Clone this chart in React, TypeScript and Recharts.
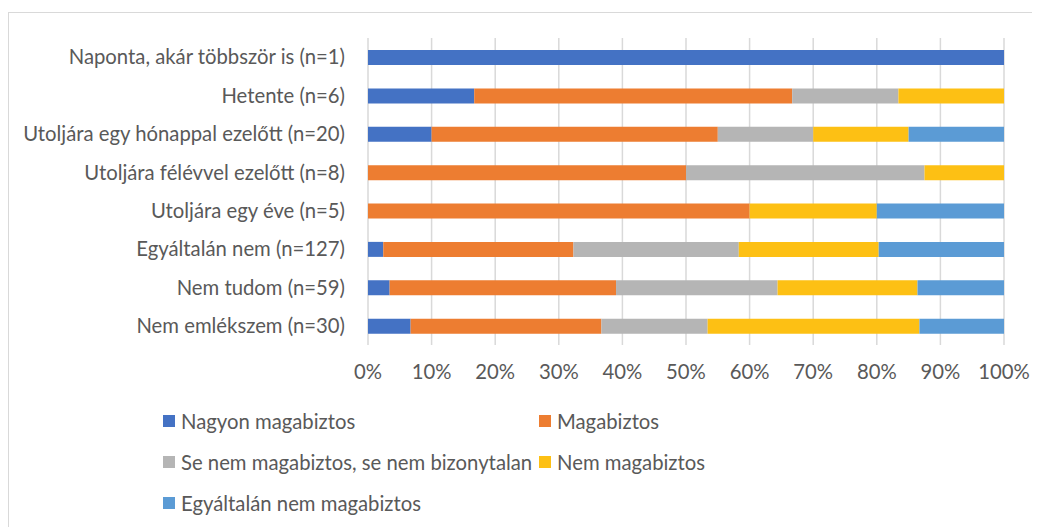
import React from "react";
import { BarChart, Bar, XAxis, YAxis, CartesianGrid, Legend } from "recharts";

const categories = [
  "Naponta, akár többször is (n=1)",
  "Hetente (n=6)",
  "Utoljára egy hónappal ezelőtt (n=20)",
  "Utoljára félévvel ezelőtt (n=8)",
  "Utoljára egy éve (n=5)",
  "Egyáltalán nem (n=127)",
  "Nem tudom (n=59)",
  "Nem emlékszem (n=30)",
];

const seriesNames = [
  "Nagyon magabiztos",
  "Magabiztos",
  "Se nem magabiztos, se nem bizonytalan",
  "Nem magabiztos",
  "Egyáltalán nem magabiztos",
];

const nagyonMagabiztos = [100, 16.7, 10, 0, 0, 2.4, 3.4, 6.7];
const magabiztos = [0, 50.0, 45, 50, 60, 29.9, 35.6, 30.0];
const seNem = [0, 16.7, 15, 37.5, 0, 26.0, 25.4, 16.7];
const nemMagabiztos = [0, 16.6, 15, 12.5, 20, 22.0, 22.0, 33.3];
const egyaltalanNem = [0, 0, 15, 0, 20, 19.7, 13.6, 13.3];

const xTicks = [0, 10, 20, 30, 40, 50, 60, 70, 80, 90, 100];

const colors = ["#4472C4", "#ED7D31", "#B5B5B5", "#FDC014", "#5B9BD5"];
const keys = ["s0", "s1", "s2", "s3", "s4"];
const seriesValues = [nagyonMagabiztos, magabiztos, seNem, nemMagabiztos, egyaltalanNem];

const data = categories.map((name, i) => {
  const row: Record<string, string | number> = { name };
  seriesValues.forEach((vals, k) => {
    row[keys[k]] = vals[i];
  });
  return row;
});

const FONT = "Lato, 'DejaVu Sans', sans-serif";
const TEXT = "#595959";
const FS = 20.3;

const legendPos = [
  { left: 155, top: 0 },
  { left: 531, top: 0 },
  { left: 155, top: 41 },
  { left: 531, top: 41 },
  { left: 155, top: 81.5 },
];

const renderLegend = () => (
  <div style={{ position: "relative", width: 1000, height: 130 }}>
    {seriesNames.map((n, i) => (
      <div
        key={n}
        style={{
          position: "absolute",
          left: legendPos[i].left,
          top: legendPos[i].top,
          height: 32,
          display: "flex",
          alignItems: "center",
          whiteSpace: "nowrap",
        }}
      >
        <span style={{ display: "inline-block", width: 12, height: 12, background: colors[i], marginRight: 6 }} />
        <span style={{ color: TEXT, fontSize: FS, fontFamily: FONT, lineHeight: "32px" }}>{n}</span>
      </div>
    ))}
  </div>
);

export default function App() {
  return (
    <div style={{ position: "relative", width: 1032, height: 519, fontFamily: FONT }}>
      <div
        style={{
          position: "absolute",
          left: 0,
          top: 4,
          width: 1032,
          height: 515,
          boxSizing: "border-box",
          borderTop: "1px solid #D9D9D9",
          borderLeft: "1px solid #D9D9D9",
        }}
      />
      <div style={{ position: "absolute", left: 0, top: 0 }}>
        <BarChart
          width={1032}
          height={519}
          data={data}
          layout="vertical"
          margin={{ top: 30, right: 36, left: 0, bottom: 12 }}
        >
          <CartesianGrid horizontal={false} stroke="#D9D9D9" strokeWidth={1.5} />
          <XAxis
            type="number"
            domain={[0, 100]}
            ticks={xTicks}
            tickFormatter={(v: number) => `${v}%`}
            axisLine={false}
            tickLine={false}
            tickSize={0}
            tickMargin={20}
            height={40}
            interval={0}
            tick={{ fill: TEXT, fontSize: FS, fontFamily: FONT }}
          />
          <YAxis
            type="category"
            dataKey="name"
            width={360}
            axisLine={false}
            tickLine={false}
            tickSize={0}
            tickMargin={23}
            interval={0}
            tick={{ fill: TEXT, fontSize: FS, fontFamily: FONT }}
          />
          <Legend
            content={renderLegend}
            verticalAlign="bottom"
            wrapperStyle={{ left: 0, top: 397, width: 1000, height: 130 }}
          />
          {keys.map((k, i) => (
            <Bar
              key={k}
              dataKey={k}
              name={seriesNames[i]}
              stackId="a"
              fill={colors[i]}
              barSize={15}
              isAnimationActive={false}
            />
          ))}
        </BarChart>
      </div>
    </div>
  );
}
